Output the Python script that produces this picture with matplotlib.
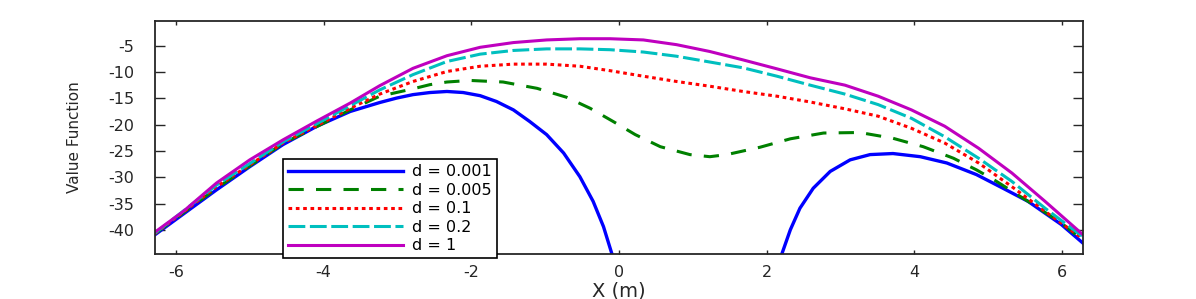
import numpy as np
import matplotlib
matplotlib.use("Agg")
import matplotlib.pyplot as plt

# values
x_001 = [-6.28, -5.45, -5.00, -4.55, -4.09, -3.64, -3.24, -3.01, -2.79, -2.56, -2.33, -2.11, -1.88, -1.66,
         -1.43, -1.21, -0.98, -0.75, -0.53, -0.35, -0.21, -0.10, -0.03,
         np.nan,
         2.14, 2.20, 2.32, 2.45, 2.63, 2.86, 3.13, 3.40, 3.71, 4.08, 4.44, 4.84, 5.20, 5.54, 5.99, 6.28]
y_001 = [-40.9, -32.4, -28.0, -23.8, -20.3, -17.5, -15.8, -14.95, -14.3, -13.9, -13.7, -13.9, -14.5, -15.6,
         -17.2, -19.4, -21.9, -25.4, -29.9, -34.6, -39.4, -44.4, -47.5,
         np.nan,
         -47.5, -44.8, -40.0, -35.9, -32.1, -28.9, -26.7, -25.7, -25.5, -26.1, -27.3, -29.5, -32.1, -34.6, -39.0, -42.5]

x_005 = [-6.28, -5.45, -4.55, -3.64, -3.24, -2.79, -2.56, -2.33, -2.02, -1.57, -1.11, -0.71, -0.39, -0.08,
         0.22, 0.56, 0.96, 1.23, 1.46, 1.91, 2.32, 2.77, 3.26, 3.71, 4.12, 4.53, 4.84, 5.09, 5.54, 5.99, 6.28]
y_005 = [-40.7, -32.1, -23.6, -17.2, -14.6, -13.2, -12.4, -11.9, -11.6, -11.9, -13.1, -14.8, -16.9, -19.4,
         -21.9, -24.2, -25.7, -26.1, -25.7, -24.3, -22.7, -21.6, -21.5, -22.6, -24.2, -26.4, -28.6, -30.6,
         -34.6, -38.7, -42.0]

x_01 = [-6.28, -5.45, -4.55, -3.64, -3.24, -2.79, -2.33, -1.88, -1.43, -0.98, -0.53, -0.12, 0.33, 0.78, 1.23,
        1.68, 2.14, 2.59, 3.06, 3.51, 3.96, 4.41, 4.87, 5.32, 5.77, 6.28]
y_01 = [-40.7, -31.8, -23.5, -16.9, -14.2, -11.8, -9.9, -8.9, -8.5, -8.5, -8.9, -9.75, -10.8, -11.8, -12.7,
        -13.7, -14.6, -15.7, -17.0, -18.4, -20.7, -23.5, -27.3, -31.8, -36.5, -41.7]

x_02 = [-6.28, -5.45, -4.55, -3.64, -3.24, -2.79, -2.33, -1.88, -1.43, -0.98, -0.53, -0.12, 0.33, 0.78, 1.23,
        1.68, 2.14, 2.59, 3.06, 3.51, 3.96, 4.41, 4.87, 5.32, 5.77, 6.28]
y_02 = [-40.6, -31.5, -23.3, -16.4, -13.4, -10.5, -8.0, -6.6, -5.9, -5.6, -5.6, -5.76, -6.2, -7.0, -8.1,
        -9.2, -10.8, -12.5, -14.2, -16.2, -18.8, -22.3, -26.4, -30.8, -35.9, -41.3]

x_1 = [-6.28, -5.90, -5.45, -5.00, -4.55, -4.09, -3.64, -3.24, -2.79, -2.33, -1.88, -1.43, -0.98, -0.53, -0.12,
       0.33, 0.78, 1.23, 1.68, 2.14, 2.59, 3.06, 3.51, 3.96, 4.41, 4.87, 5.32, 5.77, 6.28]
y_1 = [-40.4, -36.5, -31.1, -26.7, -22.9, -19.3, -15.9, -12.6, -9.3, -6.9, -5.3, -4.4, -3.9, -3.67, -3.67,
       -3.9, -4.8, -6.1, -7.7, -9.4, -11.1, -12.5, -14.6, -17.2, -20.3, -24.5, -29.2, -34.6, -40.9]

labels = ["d = 0.001", "d = 0.005", "d = 0.1", "d = 0.2", "d = 1"]

plt.rcParams['font.family'] = ['DejaVu Sans']
plt.rcParams['axes.unicode_minus'] = False

fig = plt.figure(figsize=(11.96, 2.99), dpi=100)
ax = fig.add_axes([155 / 1196, 1 - 254 / 299, 928 / 1196, 233 / 299])

ax.plot(x_001, y_001, color=(0, 0, 1), lw=2.4, label=labels[0])
ax.plot(x_005, y_005, color=(0, 0.5, 0), lw=2.2, dashes=(5, 4), label=labels[1])
ax.plot(x_01, y_01, color=(1, 0, 0), lw=2.2, dashes=(1.2, 1.2), label=labels[2])
ax.plot(x_02, y_02, color=(0, 0.75, 0.75), lw=2.2, dashes=(5.5, 1.5), label=labels[3])
ax.plot(x_1, y_1, color=(0.75, 0, 0.75), lw=2.2, label=labels[4])

ax.set_xlim(-2 * np.pi, 2 * np.pi)
ax.set_ylim(-44.6, -0.3)
ax.set_xticks([-6, -4, -2, 0, 2, 4, 6])
ax.set_yticks([-40, -35, -30, -25, -20, -15, -10, -5])

for s in ax.spines.values():
    s.set_color('#262626')
    s.set_linewidth(1.3)
ax.tick_params(axis='both', direction='in', top=True, right=True, colors='#262626',
               labelcolor='#262626', labelsize=11.5, width=1)
ax.tick_params(axis='x', length=3, pad=8)
ax.tick_params(axis='y', length=7, pad=15)

ax.set_xlabel("X (m)", fontsize=14, color='#262626')
ax.set_ylabel("Value Function", fontsize=11, color='#262626')
ax.xaxis.set_label_coords(0.5, -0.12)
ax.yaxis.set_label_coords(-0.079, 0.5)

leg = ax.legend(loc='lower left', bbox_to_anchor=(0.138, -0.017), borderaxespad=0,
                fontsize=11.5, handlelength=7.2, handletextpad=0.6, labelspacing=0.22,
                borderpad=0.3, fancybox=False, framealpha=1, edgecolor='black')
leg.get_frame().set_linewidth(1.2)

fig.savefig("out.png", dpi=100)
